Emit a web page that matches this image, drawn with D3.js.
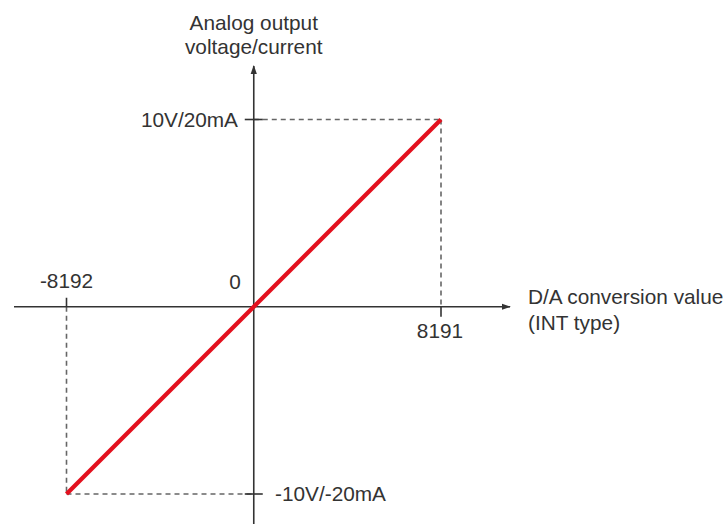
<!DOCTYPE html>
<html><head><meta charset="utf-8">
<script src="https://cdn.jsdelivr.net/npm/d3@7"></script>
<style>body{margin:0;background:#fff}svg text{font-family:"Liberation Sans",Arial,sans-serif;fill:#333}</style>
</head><body><svg id="c" width="725" height="524"></svg>
<script>
const xValues = [-8192, 0, 8191];
const xTickLabels = ["-8192", "0", "8191"];
const yValues = [-10, 10];
const yTickLabels = ["-10V/-20mA", "10V/20mA"];
const lineX = [-8192, 8191];
const lineY = [-10, 10];
const yTitle = ["Analog output", "voltage/current"];
const xTitle = ["D/A conversion value", "(INT type)"];

const svg = d3.select("#c");
const x = d3.scaleLinear().domain([-8192, 8191]).range([66.5, 441]);
const y = d3.scaleLinear().domain([-10, 10]).range([494, 119.5]);
const x0 = x(0), y0 = y(0);

const defs = svg.append("defs");
defs.append("marker").attr("id","ar").attr("viewBox","0 0 10 10").attr("refX",9).attr("refY",5)
  .attr("markerWidth",9).attr("markerHeight",9).attr("markerUnits","userSpaceOnUse").attr("orient","auto")
  .append("path").attr("d","M0,1.5 L10,5 L0,8.5 Z").attr("fill","#333");

// dashed guides
const dash = svg.append("g").attr("stroke","#666").attr("stroke-width",1.6).attr("stroke-dasharray","5,4").attr("fill","none");
dash.append("line").attr("x1",x0).attr("x2",x(lineX[1])).attr("y1",y(lineY[1])).attr("y2",y(lineY[1]));
dash.append("line").attr("x1",x(lineX[1])).attr("x2",x(lineX[1])).attr("y1",y(lineY[1])).attr("y2",y0);
dash.append("line").attr("x1",x(lineX[0])).attr("x2",x0).attr("y1",y(lineY[0])).attr("y2",y(lineY[0]));
dash.append("line").attr("x1",x(lineX[0])).attr("x2",x(lineX[0])).attr("y1",y0).attr("y2",y(lineY[0]));

// axes
const ax = svg.append("g").attr("stroke","#333").attr("stroke-width",1.6);
ax.append("line").attr("x1",14).attr("x2",510).attr("y1",y0).attr("y2",y0).attr("marker-end","url(#ar)");
ax.append("line").attr("x1",x0).attr("x2",x0).attr("y1",524).attr("y2",66).attr("marker-end","url(#ar)");
// ticks
ax.append("line").attr("x1",x(-8192)).attr("x2",x(-8192)).attr("y1",y0-9).attr("y2",y0);
ax.append("line").attr("x1",x(8191)).attr("x2",x(8191)).attr("y1",y0).attr("y2",y0+10);
yValues.forEach(v=>ax.append("line").attr("x1",x0-9).attr("x2",x0+9).attr("y1",y(v)).attr("y2",y(v)));

// red line
svg.append("line").attr("x1",x(lineX[0])).attr("y1",y(lineY[0])).attr("x2",x(lineX[1])).attr("y2",y(lineY[1]))
  .attr("stroke","#e3101e").attr("stroke-width",4.2);

const fs = 20.8;
// tick labels
svg.append("text").attr("x",x(xValues[0])).attr("y",288).attr("text-anchor","middle").attr("font-size",fs).text(xTickLabels[0]);
svg.append("text").attr("x",x0-13).attr("y",289).attr("text-anchor","end").attr("font-size",fs).text(xTickLabels[1]);
svg.append("text").attr("x",x(xValues[2])-1).attr("y",338).attr("text-anchor","middle").attr("font-size",fs).text(xTickLabels[2]);
svg.append("text").attr("x",238).attr("y",127).attr("text-anchor","end").attr("font-size",fs).text(yTickLabels[1]);
svg.append("text").attr("x",275).attr("y",501).attr("text-anchor","start").attr("font-size",fs).text(yTickLabels[0]);

// titles
yTitle.forEach((t,i)=>svg.append("text").attr("x",x0).attr("y",30+i*24).attr("text-anchor","middle").attr("font-size",fs).text(t));
xTitle.forEach((t,i)=>svg.append("text").attr("x",528).attr("y",304+i*26).attr("text-anchor","start").attr("font-size",fs).text(t));
</script></body></html>
